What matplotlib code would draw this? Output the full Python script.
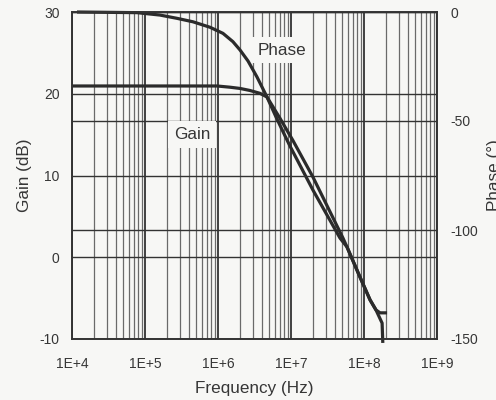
import numpy as np
import matplotlib
matplotlib.use("Agg")
import matplotlib.pyplot as plt
from matplotlib.ticker import LogLocator, FuncFormatter, FixedLocator

# ==========================
# Data
# ==========================
gain_freq = [1.0e4, 1.17e5, 5.7e5, 9.7e5, 1.46e6, 2.0e6, 2.74e6, 3.76e6, 4.69e6,
             7.06e6, 1.06e7, 2.0e7, 5.15e7, 5.85e7, 8.8e7, 1.21e8, 1.46e8,
             1.66e8, 2.07e8]
gain_db = [20.95, 20.95, 20.95, 20.95, 20.8, 20.65, 20.4, 20.05, 19.6,
           17.0, 14.3, 9.8, 2.35, 1.25, -2.4, -5.2, -6.45, -6.8, -6.8]

phase_freq = [1.17e4, 7.76e4, 1.6e5, 2.74e5, 4.55e5, 7.77e5, 1.17e6, 1.6e6,
              2.0e6, 2.58e6, 3.42e6, 4.69e6, 6.24e6, 8.55e6, 9.68e6, 2.0e7,
              4.69e7, 5.85e7, 8.8e7, 1.21e8, 1.46e8, 1.77e8, 1.81e8]
phase_deg = [0, -0.3, -1.4, -2.9, -4.5, -7.0, -9.8, -13.6, -17.4, -22.5,
             -29.8, -39.0, -48.2, -57.8, -61.5, -81.7, -103.7, -107.8,
             -121.6, -132.1, -136.7, -142.7, -151.8]

gain_ticks = [-10, 0, 10, 20, 30]
phase_ticks = [-150, -100, -50, 0]

BG = "#f7f7f5"
INK = "#2b2b2b"
TXT = "#363636"

plt.rcParams["font.family"] = ["Liberation Sans", "DejaVu Sans"]
plt.rcParams["axes.unicode_minus"] = False


def draw_chart():
    fig = plt.figure(figsize=(4.96, 4.0), dpi=100, facecolor=BG)
    ax2 = fig.add_axes([72 / 496, 1 - 339 / 400, 365 / 496, 327 / 400])
    ax = ax2.twinx()
    ax2.set_facecolor(BG)
    ax.patch.set_visible(False)

    # phase axis (drawn below) carries vertical grid, phase grid and curve
    ax2.set_xscale("log")
    ax2.set_xlim(1e4, 1e9)
    ax2.set_ylim(-150, 0)
    ax2.xaxis.set_major_locator(LogLocator(base=10, numticks=10))
    ax2.xaxis.set_minor_locator(LogLocator(base=10, subs=np.arange(2, 10), numticks=20))
    ax2.xaxis.set_major_formatter(FuncFormatter(lambda v, _: "1E+%d" % round(np.log10(v))))
    ax2.yaxis.set_major_locator(FixedLocator(phase_ticks))
    ax2.grid(which="minor", axis="x", color="#6a6a6a", lw=0.9)
    ax2.grid(which="major", axis="x", color="#222222", lw=1.2)
    ax2.grid(which="major", axis="y", color="#333333", lw=1.0)
    ax2.plot(phase_freq, phase_deg, color=INK, lw=2.3, clip_on=False,
             solid_capstyle="butt")

    # gain axis (drawn on top)
    ax.set_ylim(-10, 30)
    ax.yaxis.set_major_locator(FixedLocator(gain_ticks))
    ax.grid(which="major", axis="y", color="#333333", lw=1.0)
    ax.plot(gain_freq, gain_db, color=INK, lw=2.3, clip_on=False,
            solid_capstyle="butt")

    # put gain on the left, phase on the right
    ax.yaxis.tick_left()
    ax.yaxis.set_label_position("left")
    ax2.yaxis.tick_right()
    ax2.yaxis.set_label_position("right")

    ax.tick_params(axis="y", length=0, pad=9, labelsize=10, labelcolor=TXT)
    ax2.tick_params(axis="y", length=0, pad=9.5, labelsize=10, labelcolor=TXT)
    ax2.tick_params(axis="x", which="both", length=0, pad=13, labelsize=10,
                    labelcolor=TXT)

    ax.set_ylabel("Gain (dB)", fontsize=12.3, color=TXT)
    ax.yaxis.set_label_coords(-40 / 365, 0.5)
    ax2.set_ylabel("Phase (°)", fontsize=12.3, color=TXT, rotation=90)
    ax2.yaxis.set_label_coords(1 + 50 / 365, 0.5)
    ax2.set_xlabel("Frequency (Hz)", fontsize=12.3, color=TXT, labelpad=7)

    for a in (ax, ax2):
        for s in a.spines.values():
            s.set_color("#333333")
            s.set_linewidth(1.2)

    box = dict(boxstyle="square,pad=0.35", facecolor=BG, edgecolor="none")
    ax.text(4.4e5, 15, "Gain", fontsize=12.3, color=TXT, ha="center",
            va="center", bbox=box, zorder=5)
    ax.text(7.5e6, 25.35, "Phase", fontsize=12.3, color=TXT, ha="center",
            va="center", bbox=box, zorder=5)

    fig.savefig("out.png", dpi=100, facecolor=BG)


def main():
    draw_chart()


if __name__ == "__main__":
    main()
